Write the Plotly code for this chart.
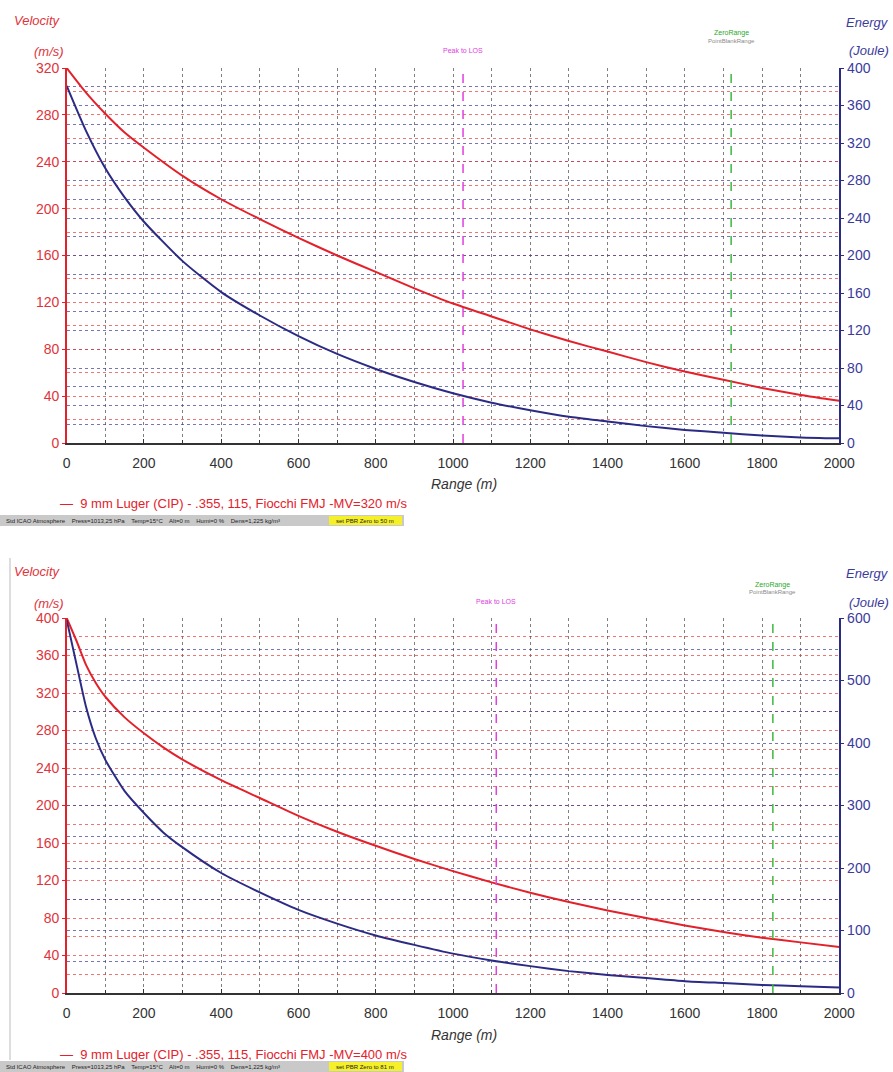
import plotly.graph_objects as go

W, H = 893, 1072

# ---------------- data ----------------
range_top = [0, 50, 100, 150, 200, 300, 400, 500, 600, 700, 800, 900, 1000,
             1100, 1200, 1300, 1400, 1500, 1600, 1700, 1800, 1900, 2000]
vel_top = [320, 299, 281, 265, 252, 228, 208, 191, 175, 160, 146, 132, 119,
           108, 97, 87, 78, 69, 61, 54, 47, 41, 36]
eng_top = [381, 333, 293, 262, 236, 194, 161, 136, 114, 95, 79, 65, 53,
           43, 35, 28, 23, 18, 14, 11, 8, 6, 5]

range_bot = [0, 25, 50, 75, 100, 150, 200, 250, 300, 400, 500, 600, 700, 800, 900,
             1000, 1100, 1200, 1300, 1400, 1500, 1600, 1700, 1800, 1900, 2000]
vel_bot = [400, 376, 350, 331, 316, 294, 277, 262, 249, 227, 208, 189, 172, 157, 143,
           130, 118, 107, 97, 88, 80, 72, 65, 59, 54, 49]
eng_bot = [597, 527, 458, 408, 373, 323, 288, 257, 233, 192, 161, 133, 111, 92, 77,
           63, 52, 43, 35, 29, 24, 19, 16, 13, 11, 9]

peak_los = [1026, 1112]      # "Peak to LOS" marker range (top, bottom)
zero_range = [1720, 1828]    # "ZeroRange" marker range (top, bottom)

legend_texts = ["\u2014  9 mm Luger (CIP) - .355, 115, Fiocchi FMJ -MV=320 m/s",
                "\u2014  9 mm Luger (CIP) - .355, 115, Fiocchi FMJ -MV=400 m/s"]
status_text = "Std ICAO Atmosphere    Press=1013,25 hPa    Temp=15\u00b0C    Alt=0 m    Humi=0 %    Dens=1,225 kg/m\u00b3"
pbr_texts = ["set PBR Zero to 50 m", "set PBR Zero to 81 m"]

vel_ranges = [320, 400]
eng_ranges = [400, 600]
eng_dticks = [40, 100]
eng_minor = [20, 50]

# ---------------- styles ----------------
RED = "#e3212b"
NAVY = "#2b2b85"
RED_LBL = "#e0343c"
BLUE_LBL = "#3b3b9c"
RGRID = "rgba(226,60,60,0.7)"
BGRID = "rgba(60,60,150,0.7)"
KGRID = "rgba(60,60,60,0.65)"
FONT = "Liberation Sans, Arial, sans-serif"

xdom = [66.7 / W, 839.3 / W]
ydoms = [[1 - 443 / H, 1 - 68 / H], [1 - 993 / H, 1 - 618 / H]]

fig = go.Figure()

datasets = [(range_top, vel_top, eng_top), (range_bot, vel_bot, eng_bot)]
for i, (rg, vel, eng) in enumerate(datasets):
    xa = "x" if i == 0 else "x2"
    yv = "y" if i == 0 else "y3"
    ye = "y2" if i == 0 else "y4"
    fig.add_trace(go.Scatter(x=rg, y=eng, xaxis=xa, yaxis=ye, mode="lines",
                             line=dict(color=NAVY, width=2, shape="spline", smoothing=0.6),
                             showlegend=False, hoverinfo="skip"))
    fig.add_trace(go.Scatter(x=rg, y=vel, xaxis=xa, yaxis=yv, mode="lines",
                             line=dict(color=RED, width=2, shape="spline", smoothing=0.6),
                             showlegend=False, hoverinfo="skip"))


def xaxis_cfg(anchor):
    return dict(domain=xdom, anchor=anchor, range=[0, 2000], tick0=0, dtick=200,
                showgrid=True, gridcolor=KGRID, griddash="dot", gridwidth=1,
                minor=dict(dtick=100, showgrid=True, gridcolor=KGRID, griddash="dot",
                           ticks="inside", ticklen=3, tickcolor="#333"),
                ticks="inside", ticklen=4, tickcolor="#333",
                showline=True, linecolor="#333", linewidth=2, zeroline=False,
                tickfont=dict(family=FONT, size=14, color="#333"),
                ticklabelstandoff=6, fixedrange=True, automargin=False)


def vaxis_cfg(i, anchor):
    return dict(domain=ydoms[i], anchor=anchor, range=[0, vel_ranges[i]], tick0=0, dtick=40,
                showgrid=True, gridcolor=RGRID, griddash="dot", gridwidth=1,
                minor=dict(dtick=20, showgrid=True, gridcolor=RGRID, griddash="dot"),
                showline=True, linecolor=RED, linewidth=1.5, zeroline=False,
                ticks="outside", ticklen=3, tickcolor=RED,
                tickfont=dict(family=FONT, size=14, color=RED_LBL), ticklabelstandoff=0,
                fixedrange=True, automargin=False)


def eaxis_cfg(i, overlay, anchor):
    return dict(overlaying=overlay, side="right", anchor=anchor, range=[0, eng_ranges[i]],
                tick0=0, dtick=eng_dticks[i],
                showgrid=True, gridcolor=BGRID, griddash="dot", gridwidth=1,
                minor=dict(dtick=eng_minor[i], showgrid=True, gridcolor=BGRID, griddash="dot"),
                showline=True, linecolor=NAVY, linewidth=2, zeroline=False,
                ticks="outside", ticklen=3, tickcolor=NAVY,
                tickfont=dict(family=FONT, size=14, color=BLUE_LBL), ticklabelstandoff=0,
                fixedrange=True, automargin=False)


fig.update_layout(
    width=W, height=H, margin=dict(l=0, r=0, t=0, b=0, autoexpand=False),
    paper_bgcolor="white", plot_bgcolor="white", showlegend=False,
    xaxis=xaxis_cfg("y"), xaxis2=xaxis_cfg("y3"),
    yaxis=vaxis_cfg(0, "x"), yaxis2=eaxis_cfg(0, "y", "x"),
    yaxis3=vaxis_cfg(1, "x2"), yaxis4=eaxis_cfg(1, "y3", "x2"),
)

annotations = []
shapes = []


def pann(text, px, py, color, size, xanchor="center", italic=False, xref="paper", xval=None):
    annotations.append(dict(
        text=text, x=(px / W) if xval is None else xval, xref=xref,
        y=1 - py / H, yref="paper", xanchor=xanchor, yanchor="middle",
        showarrow=False, font=dict(family=FONT, size=size, color=color,
                                   style="italic" if italic else "normal")))


offsets = [0, 551]
for i, off in enumerate(offsets):
    xa = "x" if i == 0 else "x2"
    # axis captions
    pann("Velocity", 12, 20 + off, RED_LBL, 13, "left", True)
    pann("(m/s)", 32, 52 + off, RED_LBL, 13, "left", True)
    pann("Energy", 891, 22 + off, BLUE_LBL, 13, "right", True)
    pann("(Joule)", 891, 51 + off, BLUE_LBL, 13, "right", True)
    pann("Range (m)", 464, 484 + off, "#333", 14, "center", True)
    # legend line
    pann(legend_texts[i], 58, 503 + off, RED, 13, "left")
    # marker lines
    shapes.append(dict(type="line", xref=xa, yref=("y domain" if i == 0 else "y3 domain"),
                       x0=peak_los[i], x1=peak_los[i], y0=0, y1=1,
                       line=dict(color="#e040e0", width=1.5, dash="dash")))
    shapes.append(dict(type="line", xref=xa, yref=("y domain" if i == 0 else "y3 domain"),
                       x0=zero_range[i], x1=zero_range[i], y0=0, y1=1,
                       line=dict(color="#3cb83c", width=1.5, dash="dash")))
    pann("Peak to LOS", 0, (50 if i == 0 else 601), "#e040e0", 7, "center", xref=xa, xval=peak_los[i])
    pann("ZeroRange", 0, (33 if i == 0 else 585), "#2aa82a", 7, "center", xref=xa, xval=zero_range[i])
    pann("PointBlankRange", 0, (41 if i == 0 else 592), "#8a8a8a", 6, "center", xref=xa, xval=zero_range[i])

# status bars
bars = [(515, 526), (1061, 1072)]
for i, (y0, y1) in enumerate(bars):
    shapes.append(dict(type="rect", xref="paper", yref="paper", x0=0, x1=404 / W,
                       y0=1 - y1 / H, y1=1 - y0 / H, fillcolor="#c9c9c9", line=dict(width=0),
                       layer="below"))
    shapes.append(dict(type="rect", xref="paper", yref="paper", x0=329 / W, x1=402 / W,
                       y0=1 - (y1 - 1) / H, y1=1 - (y0 + 1) / H, fillcolor="#f5f02a",
                       line=dict(width=0), layer="below"))
    pann(status_text, 4, (y0 + y1) / 2, "#222", 6, "left")
    pann(pbr_texts[i], 365, (y0 + y1) / 2, "#222", 6, "center")

# window border at left of lower panel
shapes.append(dict(type="line", xref="paper", yref="paper", x0=10 / W, x1=10 / W,
                   y0=1 - 1060 / H, y1=1 - 558 / H, line=dict(color="#bbbbbb", width=1)))

fig.update_layout(annotations=annotations, shapes=shapes)
fig.write_html("out.html",
               config={"displayModeBar": False, "staticPlot": True},
               post_script="document.body.style.margin='0';document.body.style.overflow='hidden';")
